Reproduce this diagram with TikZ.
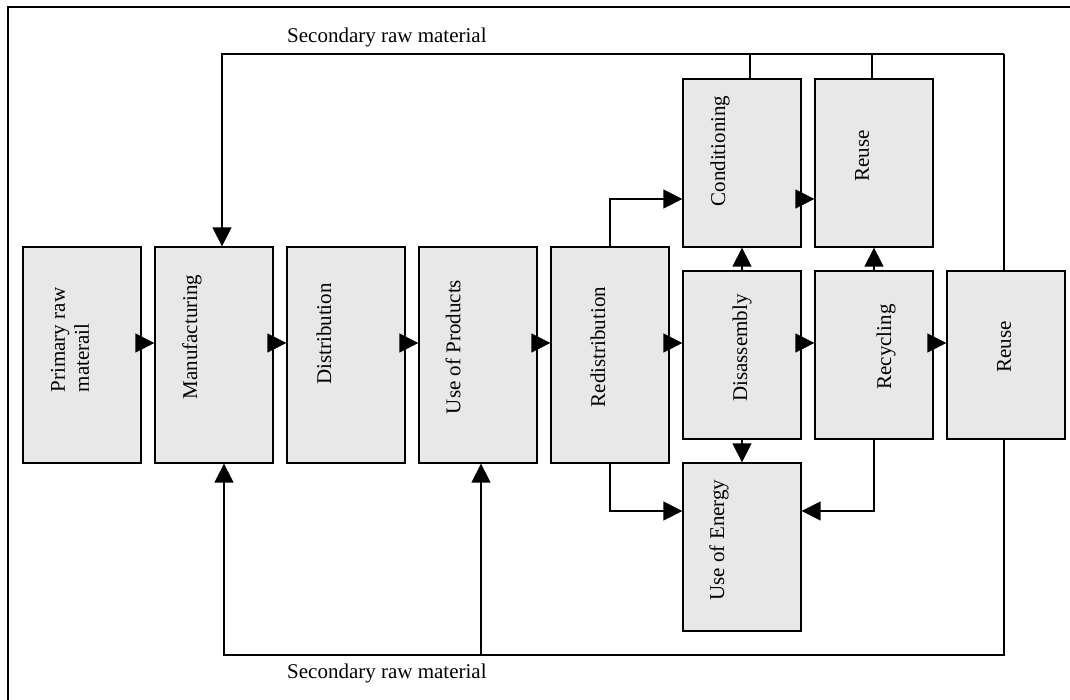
\documentclass[tikz,border=0pt]{standalone}
\usepackage{fontspec}
\setmainfont{Liberation Serif}
\usetikzlibrary{positioning, arrows.meta}

\definecolor{boxgray}{RGB}{232,232,232}
\tikzset{
	stage/.style={draw, line width=1.3pt, fill=boxgray, inner sep=0pt, minimum width=118pt, minimum height=216pt},
	substage/.style={stage, minimum height=168pt},
	stagetext/.style={rotate=90, inner sep=0pt, align=left},
	link/.style={line width=1.4pt},
	flow/.style={link, -{Triangle[length=19pt, width=19pt]}}
}

\begin{document}
\begin{tikzpicture}[node distance=12.7pt, x=1pt, y=1pt, font=\fontsize{21}{24}\selectfont]
	\useasboundingbox (0,0) rectangle (1070,-700);
	\clip (0,0) rectangle (1070,-700);
	\draw[line width=2pt] (8,-7) rectangle (1100,-730);

	% main chain
	\node (prim) [stage] at (82,-355) {};
	\node (manu) [stage, right=of prim] {};
	\node (dist) [stage, right=of manu] {};
	\node (prod) [stage, right=of dist] {};
	\node (redis) [stage, right=of prod] {};
	\node (disa) [substage, right=of redis] {};
	\node (recyc) [substage, right=of disa] {};
	\node (reuseR) [substage, right=of recyc] {};
	\node (cond) [substage, above=22.7pt of disa] {};
	\node (reuseT) [substage, above=22.7pt of recyc] {};
	\node (energy) [substage, below=22.7pt of disa] {};

	% texts
	\node (prim-t) [stagetext] at ([shift={(-12,15)}]prim.center) {Primary raw\\materail};
	\node (manu-t) [stagetext] at ([shift={(-22,18)}]manu.center) {Manufacturing};
	\node (dist-t) [stagetext] at ([shift={(-22,21)}]dist.center) {Distribution};
	\node (prod-t) [stagetext] at ([shift={(-25,8)}]prod.center) {Use of Products};
	\node (redis-t) [stagetext] at ([shift={(-12,8)}]redis.center) {Redistribution};
	\node (disa-t) [stagetext] at ([shift={(0,7)}]disa.center) {Disassembly};
	\node (recyc-t) [stagetext] at ([shift={(12,8)}]recyc.center) {Recycling};
	\node (reuseR-t) [stagetext] at ([shift={(-2,8)}]reuseR.center) {Reuse};
	\node (cond-t) [stagetext] at ([shift={(-22,12)}]cond.center) {Conditioning};
	\node (reuseT-t) [stagetext] at ([shift={(-12,7)}]reuseT.center) {Reuse};
	\node (energy-t) [stagetext] at ([shift={(-23,7)}]energy.center) {Use of Energy};

	\node (sec-top) [anchor=base west, inner sep=0pt] at (287,-43) {Secondary raw material};
	\node (sec-bot) [anchor=base west, inner sep=0pt] at (287,-678) {Secondary raw material};

	% feedback loops
	\coordinate (tl) at (222,-54);
	\coordinate (tr) at (1004,-54);
	\coordinate (bl) at (224,-655);
	\coordinate (br) at (1004,-655);
	\coordinate (bm) at (481,-655);

	\draw[link] (reuseR.north -| tr) -- (tr);
	\draw[flow] (tr) -- (tl) -- (tl |- manu.north);
	\draw[link] ([xshift=8pt]cond.north) -- ([xshift=8pt]cond.north |- tr);
	\draw[link] ([xshift=-2pt]reuseT.north) -- ([xshift=-2pt]reuseT.north |- tr);
	\draw[flow] (reuseR.south -| br) -- (br) -- (bl) -- (bl |- manu.south);
	\draw[flow] (bm) -- (bm |- prod.south);

	% forward flow
	\foreach \a/\b in {prim/manu, manu/dist, dist/prod, prod/redis, redis/disa, disa/recyc, recyc/reuseR}
		\draw[flow] ([yshift=12pt]\a.east) -- ([yshift=12pt]\b.west);
	\draw[flow] (redis.north) |- ([yshift=-36pt]cond.west);
	\draw[flow] (redis.south) |- ([yshift=36pt]energy.west);
	\draw[flow] (recyc.south) |- ([yshift=36pt]energy.east);
	\draw[flow] ([yshift=-36pt]cond.east) -- ([yshift=-36pt]reuseT.west);
	\draw[flow] (disa.north) -- (cond.south);
	\draw[flow] (disa.south) -- (energy.north);
	\draw[flow] (recyc.north) -- (reuseT.south);
\end{tikzpicture}
\end{document}
